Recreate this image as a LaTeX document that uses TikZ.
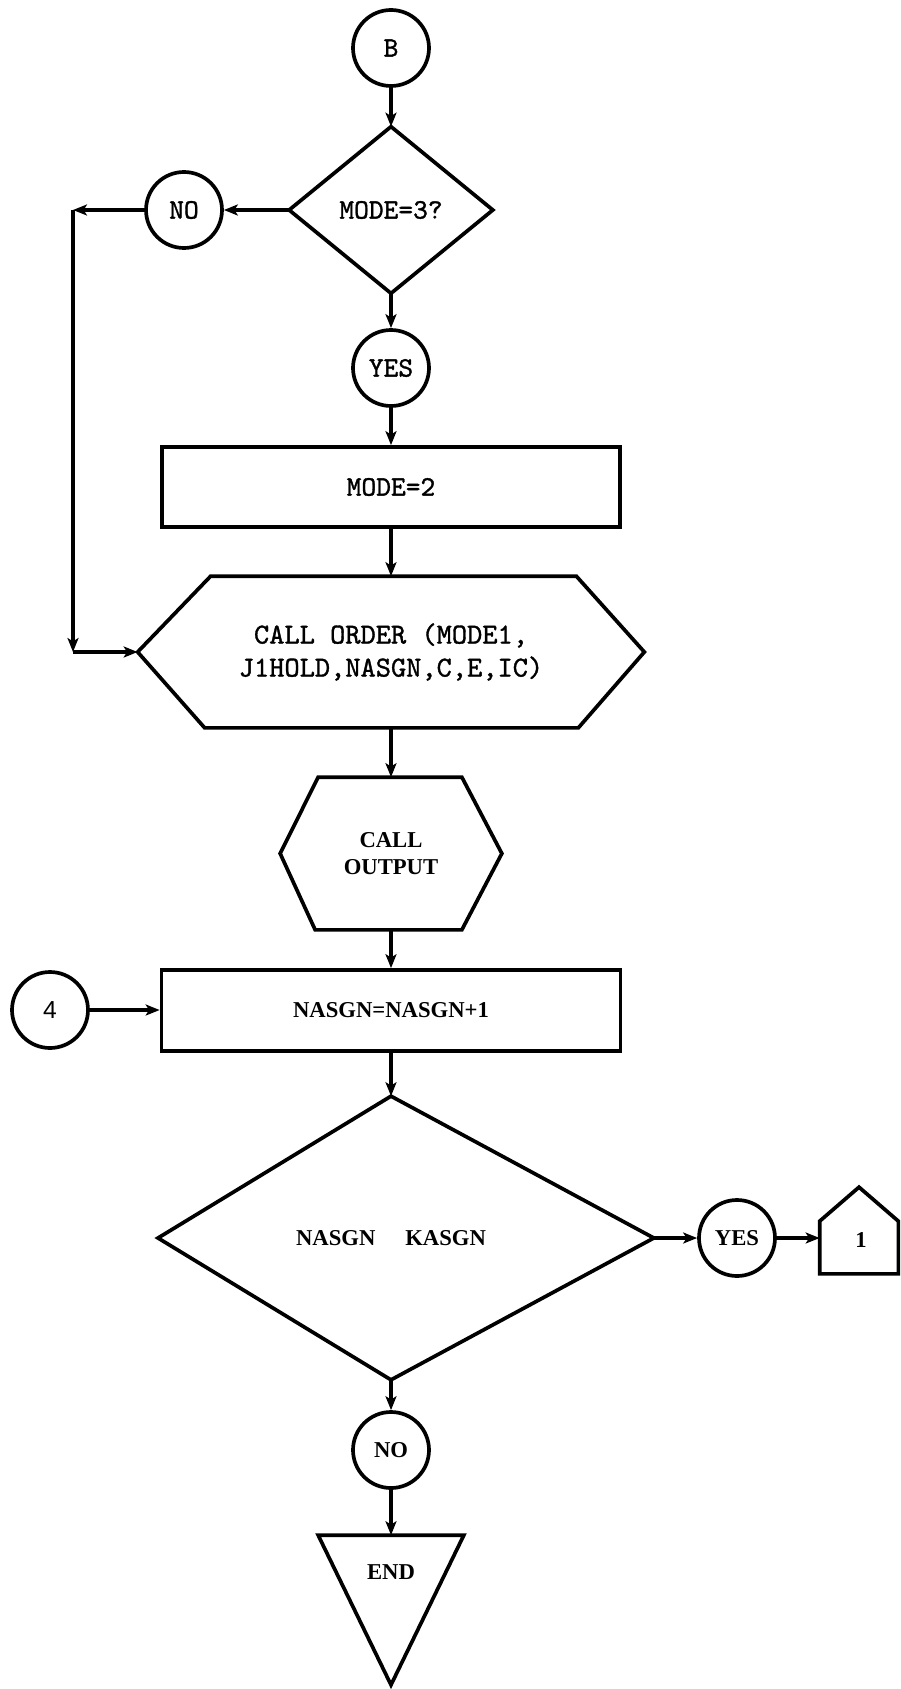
\documentclass[tikz,border=0pt]{standalone}
\usepackage{fontspec}
\newfontfamily\lowfont{Liberation Serif}
\newfontfamily\fourfont{Liberation Sans}
\newfontfamily\twfont[FakeBold=1.2]{lmmono10-regular.otf}
\usetikzlibrary{arrows.meta,calc}
\begin{document}
\begin{tikzpicture}[x=0.02cm,y=-0.02cm,line width=2.1pt,
  tw/.style={font=\fontsize{16}{19}\selectfont\twfont},
  twb/.style={font=\fontsize{16.5}{18.8}\selectfont\twfont},
  lw/.style={font=\fontsize{12.9}{15.4}\selectfont\lowfont\bfseries},
  conn/.style={circle,draw,minimum size=76*0.02cm,inner sep=0pt},
  box/.style={rectangle,draw,inner sep=0pt},
  frame/.style={rectangle,inner sep=0pt},
  arr/.style={-{Stealth[length=0.28cm,width=0.22cm,inset=0.07cm]}}]
\useasboundingbox (0,0) rectangle (900,1689);
% nodes
\node[conn,tw] (B) at (391,48) {B};
\node[frame,tw,minimum width=200*0.02cm,minimum height=163*0.02cm] (d1) at (391,210) {MODE=3?};
\draw (d1.north) -- (d1.east) -- (d1.south) -- (d1.west) -- cycle;
\node[conn,tw] (no1) at (184,210) {NO};
\node[conn,tw] (yes1) at (391,368) {YES};
\node[box,tw,minimum width=458*0.02cm,minimum height=80*0.02cm] (mode2) at (391,487) {MODE=2};
\node[frame,twb,align=center,minimum width=503*0.02cm,minimum height=148*0.02cm] (order) at (391,652) {CALL ORDER (MODE1,\\J1HOLD,NASGN,C,E,IC)};
\draw (order.west) -- ($(order.north west)+(73,0)$) -- ($(order.north east)+(-68,0)$) -- (order.east)
  -- ($(order.south east)+(-66,0)$) -- ($(order.south west)+(67,0)$) -- cycle;
\node[frame,lw,align=center,minimum width=218*0.02cm,minimum height=149*0.02cm] (output) at (391,853.5) {CALL\\OUTPUT};
\draw (output.west) -- ($(output.north west)+(38,0)$) -- ($(output.north east)+(-40,0)$) -- (output.east)
  -- ($(output.south east)+(-40,0)$) -- ($(output.south west)+(35,0)$) -- cycle;
\node[box,lw,minimum width=459*0.02cm,minimum height=81*0.02cm] (nasgn) at (391,1010.5) {NASGN=NASGN+1};
\node[conn,font=\fontsize{14}{16}\selectfont\fourfont] (four) at (50,1010) {4};
\node[frame,lw,minimum width=522*0.02cm,minimum height=280*0.02cm] (d2) at (391,1238) {NASGN\hspace{0.6cm}KASGN};
\draw (d2.north) -- (d2.east) -- (d2.south) -- ($(d2.center)+(-233,0)$) -- cycle;
\node[conn,lw] (yes2) at (737,1238) {YES};
\node[frame,minimum width=75*0.02cm,minimum height=83*0.02cm] (one) at (859,1230.5) {};
\draw (one.south west) -- ($(one.north west)+(0,34)$) -- (one.north) -- ($(one.north east)+(0,34)$) -- (one.south east) -- cycle;
\node[lw] (onet) at (861,1240) {1};
\node[conn,lw] (no2) at (391,1450) {NO};
\node[frame,minimum width=142*0.02cm,minimum height=146*0.02cm] (endn) at (391,1610) {};
\draw (endn.north west) -- (endn.north east) -- (endn.south) -- cycle;
\node[lw] (endt) at (391,1572) {END};
% connectors
\coordinate (c1) at (73,210);
\coordinate (c2) at (73,652);
\draw[arr] (B.south) -- (d1.north);
\draw[arr] (d1.west) -- (no1.east);
\draw[arr] (no1.west) -- (c1);
\draw[arr] (c1) -- (c2);
\draw[arr] (c2) -- (order.west);
\draw[arr] (d1.south) -- (yes1.north);
\draw[arr] (yes1.south) -- (mode2.north);
\draw[arr] (mode2.south) -- (order.north);
\draw[arr] (order.south) -- (output.north);
\draw[arr] (output.south) -- (nasgn.north);
\draw[arr] (four.east) -- (four.east -| nasgn.west);
\draw[arr] (nasgn.south) -- (d2.north);
\draw[arr] (d2.east) -- (yes2.west);
\draw[arr] (yes2.east) -- (yes2.east -| one.west);
\draw[arr] (d2.south) -- (no2.north);
\draw[arr] (no2.south) -- (endn.north);
\end{tikzpicture}
\end{document}
